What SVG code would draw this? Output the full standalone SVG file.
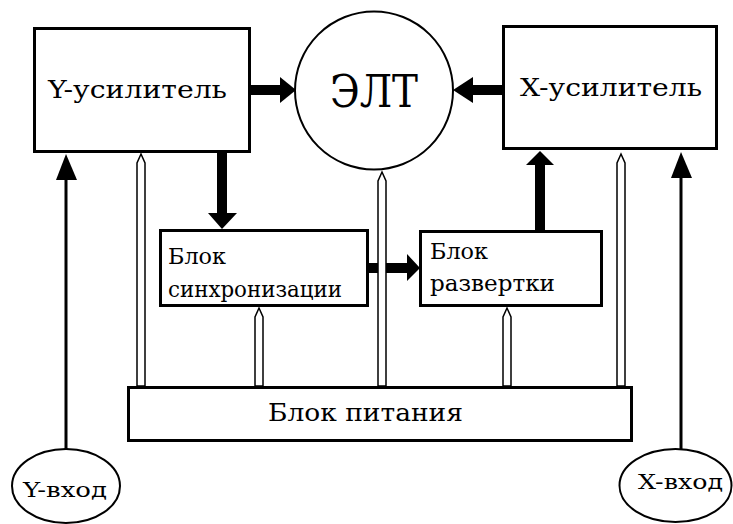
<svg xmlns="http://www.w3.org/2000/svg" width="733" height="524" viewBox="0 0 733 524">
<style>
.box{fill:#fff;stroke:#000;stroke-width:3}
.ov{fill:#fff;stroke:#000;stroke-width:2}
.t{font-family:"DejaVu Serif","Liberation Serif",serif;fill:#000}
.thick{stroke:#000;stroke-width:10;fill:none}
.thin{stroke:#000;stroke-width:3;fill:none}
.head{fill:#000}
.pw{fill:#fff;stroke:#000;stroke-width:1.5}
</style>
<rect width="733" height="524" fill="#fff"/>
<g id="connectors">
  <line class="thick" x1="251" y1="90" x2="282" y2="90"/>
  <polygon class="head" points="296,90 280,77 280,103"/>
  <line class="thick" x1="502" y1="90" x2="471" y2="90"/>
  <polygon class="head" points="453,90 473,77 473,103"/>
  <line class="thick" x1="222" y1="153" x2="222" y2="215"/>
  <polygon class="head" points="222,229 208,213 237,213"/>
  <line class="thick" x1="369" y1="268" x2="409" y2="268"/>
  <polygon class="head" points="420,268 407,254 407,281"/>
  <line class="thick" x1="540" y1="230" x2="540" y2="163"/>
  <polygon class="head" points="540,151 526,165 554,165"/>
  <line class="thin" x1="66" y1="449" x2="66" y2="178"/>
  <polygon class="head" points="66,154 56,180 77,180"/>
  <line class="thin" x1="681" y1="449" x2="681" y2="176"/>
  <polygon class="head" points="681,152 671,178 692,178"/>
  <path class="pw" d="M137,386 V163 L141,154 L145,163 V386 Z"/>
  <path class="pw" d="M255,386 V317 L259,308 L263,317 V386 Z"/>
  <path class="pw" d="M378,386 V181 L382,172 L386,181 V386 Z"/>
  <path class="pw" d="M503,386 V317 L507,308 L511,317 V386 Z"/>
  <path class="pw" d="M617,386 V163 L621,154 L625,163 V386 Z"/>
</g>
<g id="y-amp">
  <rect class="box" x="34.5" y="28.5" width="215" height="123"/>
  <text class="t" x="48" y="98" font-size="24" textLength="179" lengthAdjust="spacingAndGlyphs">Y-усилитель</text>
</g>
<g id="crt">
  <circle class="ov" cx="374" cy="90.5" r="79"/>
  <text class="t" x="330" y="107" font-size="44" textLength="88" lengthAdjust="spacingAndGlyphs">ЭЛТ</text>
</g>
<g id="x-amp">
  <rect class="box" x="503.5" y="26.5" width="213" height="122"/>
  <text class="t" x="520" y="96" font-size="24" textLength="182" lengthAdjust="spacingAndGlyphs">X-усилитель</text>
</g>
<g id="sync">
  <rect class="box" x="160.5" y="230.5" width="207" height="75"/>
  <text class="t" x="168" y="264" font-size="22" textLength="58" lengthAdjust="spacingAndGlyphs">Блок</text>
  <text class="t" x="168" y="297" font-size="22" textLength="174" lengthAdjust="spacingAndGlyphs">синхронизации</text>
</g>
<g id="sweep">
  <rect class="box" x="420.5" y="231.5" width="181" height="74"/>
  <text class="t" x="430" y="259" font-size="22" textLength="58" lengthAdjust="spacingAndGlyphs">Блок</text>
  <text class="t" x="430" y="291" font-size="22" textLength="125" lengthAdjust="spacingAndGlyphs">развертки</text>
</g>
<g id="power">
  <rect class="box" x="128.5" y="387.5" width="503" height="53"/>
  <text class="t" x="268" y="421" font-size="25" textLength="195" lengthAdjust="spacingAndGlyphs">Блок питания</text>
</g>
<g id="y-in">
  <ellipse class="ov" cx="66" cy="486" rx="54" ry="37"/>
  <text class="t" x="23" y="497" font-size="20" textLength="84" lengthAdjust="spacingAndGlyphs">Y-вход</text>
</g>
<g id="x-in">
  <ellipse class="ov" cx="675.5" cy="485.5" rx="56" ry="36.5"/>
  <text class="t" x="638" y="489" font-size="20" textLength="85" lengthAdjust="spacingAndGlyphs">X-вход</text>
</g>
</svg>
